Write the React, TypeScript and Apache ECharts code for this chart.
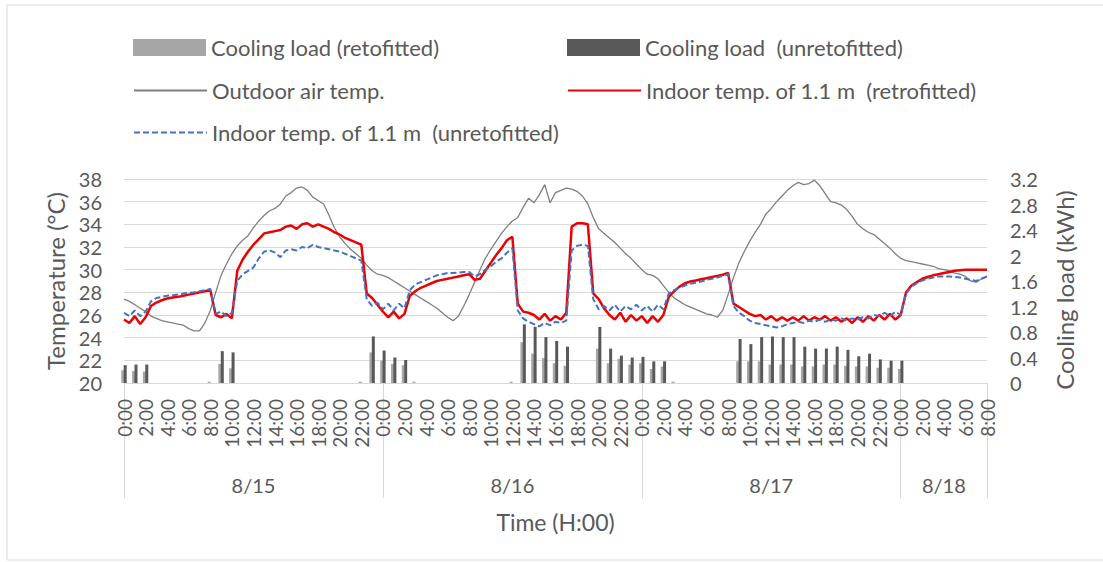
import React, { useEffect, useRef } from "react";
import * as echarts from "echarts";

// Half-hourly readings, 8/15 0:00 (h = 0) to 8/18 8:00 (h = 80)
const OUTDOOR = [
  27.4, 27.2, 26.9, 26.6, 26.3, 25.9, 25.7, 25.5, 25.4, 25.3, 25.2, 25.1, 24.8, 24.6, 24.6, 25.3,
  26.4, 28.0, 29.5, 30.5, 31.4, 32.1, 32.6, 33.0, 33.7, 34.3, 34.8, 35.2, 35.4, 35.8, 36.5, 36.8,
  37.2, 37.3, 37.0, 36.4, 36.1, 35.8, 34.8, 33.7, 32.9, 32.3, 31.8, 31.4, 31.0, 30.4, 29.9, 29.6,
  29.5, 29.3, 29.0, 28.7, 28.4, 28.1, 27.8, 27.5, 27.2, 26.9, 26.6, 26.2, 25.8, 25.5, 25.9, 26.8,
  27.8, 28.9, 30.0, 31.0, 31.8, 32.5, 33.2, 33.8, 34.3, 34.6, 35.5, 36.3, 35.9, 36.6, 37.5, 35.9,
  36.8, 37.0, 37.2, 37.1, 36.9, 36.5, 35.8, 34.6, 33.6, 33.2, 32.8, 32.4, 31.9, 31.4, 31.0, 30.5,
  30.0, 29.6, 29.5, 29.2, 28.6, 28.0, 27.5, 27.2, 26.9, 26.7, 26.5, 26.3, 26.1, 26.0, 25.8, 26.4,
  27.8, 29.3, 30.6, 31.6, 32.5, 33.3, 34.0, 34.9, 35.4, 36.0, 36.5, 37.0, 37.4, 37.7, 37.5, 37.6,
  37.9, 37.4, 36.7, 36.0, 35.9, 35.7, 35.3, 34.7, 34.0, 33.6, 33.3, 33.1, 32.7, 32.3, 31.9, 31.4,
  31.0, 30.8, 30.7, 30.6, 30.5, 30.4, 30.3, 30.1, 30.0, 29.9, 29.7, 29.6, 29.4, 29.0, 28.9, 29.2,
  29.4,
];

const INDOOR_RETRO = [
  25.6, 25.3, 25.9, 25.2, 25.8, 26.8, 27.1, 27.3, 27.45, 27.55, 27.6, 27.7, 27.8, 27.9, 28.0, 28.1,
  28.2, 26.0, 25.8, 26.1, 25.7, 29.9, 30.9, 31.6, 32.2, 32.7, 33.2, 33.3, 33.4, 33.5, 33.8, 33.9,
  33.6, 34.0, 34.1, 33.8, 34.0, 33.8, 33.6, 33.3, 33.1, 32.8, 32.6, 32.4, 32.2, 27.9, 27.5, 26.9,
  26.3, 25.8, 26.3, 25.7, 26.1, 27.7, 28.1, 28.4, 28.6, 28.8, 29.0, 29.1, 29.2, 29.3, 29.4, 29.5,
  29.6, 29.1, 29.2, 29.9, 30.6, 31.3, 31.9, 32.6, 32.9, 27.0, 26.3, 26.2, 26.0, 25.6, 26.1, 25.5,
  25.9, 25.6, 26.2, 33.8, 34.1, 34.1, 34.0, 27.9, 27.4, 26.6, 26.0, 25.6, 26.2, 25.4, 26.0, 25.5,
  25.9, 25.3, 25.9, 25.4, 26.0, 27.6, 28.1, 28.5, 28.8, 28.95, 29.05, 29.15, 29.25, 29.35, 29.45, 29.55,
  29.7, 27.0, 26.7, 26.4, 26.1, 25.9, 26.0, 25.6, 25.9, 25.5, 25.8, 25.5, 25.8, 25.5, 25.9, 25.5,
  25.8, 25.6, 25.9, 25.5, 25.8, 25.4, 25.7, 25.3, 25.8, 25.4, 25.9, 25.5, 26.0, 25.6, 26.1, 25.6,
  26.0, 28.0, 28.6, 28.9, 29.2, 29.35, 29.5, 29.6, 29.7, 29.8, 29.9, 29.95, 30.0, 30.0, 30.0, 30.0,
  30.0,
];

const INDOOR_UNRETRO = [
  26.2, 25.9, 26.4, 25.9, 26.3, 27.2, 27.5, 27.6, 27.7, 27.75, 27.8, 27.9, 27.95, 28.0, 28.1, 28.2,
  28.3, 26.1, 26.3, 25.9, 26.2, 29.0, 29.6, 29.9, 30.2, 31.0, 31.6, 31.7, 31.5, 31.1, 31.7, 31.8,
  31.7, 32.0, 31.9, 32.2, 32.0, 31.9, 31.8, 31.7, 31.6, 31.4, 31.2, 31.0, 30.8, 27.4, 26.8, 27.1,
  26.5, 27.0, 26.4, 27.0, 26.6, 28.2, 28.7, 28.9, 29.1, 29.3, 29.5, 29.6, 29.7, 29.7, 29.75, 29.8,
  29.8, 29.4, 29.6, 30.0, 30.3, 30.7, 31.0, 31.5, 31.9, 26.4, 25.7, 25.4, 25.2, 25.0, 25.3, 25.1,
  25.4, 25.3, 25.5, 31.7, 32.1, 32.2, 32.1, 27.4, 26.5, 26.8, 26.4, 26.9, 26.3, 26.8, 26.5, 26.9,
  26.4, 26.8, 26.3, 26.9, 26.5, 27.9, 28.2, 28.4, 28.6, 28.75, 28.85, 28.95, 29.1, 29.2, 29.3, 29.45,
  29.6, 26.8, 26.2, 25.9, 25.5, 25.3, 25.2, 25.1, 25.0, 24.9, 25.0, 25.2, 25.3, 25.4, 25.3, 25.5,
  25.4, 25.6, 25.4, 25.6, 25.5, 25.7, 25.5, 25.7, 25.6, 25.8, 25.7, 26.0, 25.9, 26.2, 25.9, 26.3,
  26.0, 27.9, 28.5, 28.8, 29.05, 29.2, 29.3, 29.4, 29.4, 29.4, 29.35, 29.3, 29.2, 29.1, 29.0, 29.2,
  29.4,
];

// Hourly cooling load (kWh)
const BAR_HOURS = [
  0, 1, 2, 8, 9, 10, 22, 23, 24, 25, 26, 27, 36, 37, 38, 39, 40, 41, 44, 45, 46, 47, 48, 49, 50, 51,
  57, 58, 59, 60, 61, 62, 63, 64, 65, 66, 67, 68, 69, 70, 71, 72,
];
const LOAD_RETRO = [
  0.2, 0.19, 0.18, 0.02, 0.3, 0.23, 0.02, 0.48, 0.35, 0.3, 0.28, 0.02, 0.02, 0.64, 0.46, 0.39, 0.31, 0.27,
  0.54, 0.31, 0.38, 0.29, 0.31, 0.22, 0.26, 0.02,
  0.34, 0.34, 0.34, 0.29, 0.29, 0.29, 0.26, 0.26, 0.29, 0.29, 0.27, 0.26, 0.26, 0.24, 0.24, 0.22,
];
const LOAD_UNRETRO = [
  0.28, 0.29, 0.29, 0, 0.5, 0.48, 0, 0.73, 0.51, 0.4, 0.36, 0, 0, 0.92, 0.88, 0.72, 0.66, 0.57,
  0.88, 0.54, 0.43, 0.4, 0.41, 0.34, 0.34, 0,
  0.69, 0.61, 0.72, 0.73, 0.72, 0.72, 0.57, 0.54, 0.54, 0.57, 0.52, 0.42, 0.46, 0.37, 0.35, 0.35,
];

const DATE_LABELS = ["8/15", "8/16", "8/17", "8/18"];
const DATE_CENTERS = [12, 36, 60, 76];
const DATE_BOUNDS = [0, 24, 48, 72, 80];

const NAMES = {
  loadR: "Cooling load (retofitted)",
  loadU: "Cooling load  (unretofitted)",
  out: "Outdoor air temp.",
  inR: "Indoor temp. of 1.1 m  (retrofitted)",
  inU: "Indoor temp. of 1.1 m  (unretofitted)",
};

const FONT = "Lato";
const TXT = "#595959";
const GRID_C = "#d9d9d9";

const hours = OUTDOOR.map((_, i) => i / 2);
const pairs = (arr: number[]) => arr.map((v, i) => [hours[i], v]);

function legendItem(name: string, left: number, top: number, isLine: boolean) {
  const item: any = {
    data: [name],
    left,
    top,
    padding: 0,
    itemWidth: 73,
    itemHeight: 17,
    itemGap: 0,
    selectedMode: false,
    textStyle: { fontFamily: FONT, fontSize: 22, color: TXT },
  };
  if (isLine) item.itemStyle = { opacity: 0 };
  else item.icon = "rect";
  return item;
}

export default function App() {
  const ref = useRef<HTMLDivElement>(null);
  useEffect(() => {
    const chart = echarts.init(ref.current!, null, { renderer: "svg" });
    const option: any = {
      animation: false,
      backgroundColor: "#fff",
      textStyle: { fontFamily: FONT },
      graphic: [
        {
          type: "rect",
          shape: { x: 7, y: 5, width: 1120, height: 555 },
          style: { fill: "none", stroke: GRID_C, lineWidth: 1 },
          silent: true,
        },
      ],
      legend: [
        legendItem(NAMES.loadR, 133, 36.5, false),
        legendItem(NAMES.loadU, 567, 36.5, false),
        legendItem(NAMES.out, 133, 79.5, true),
        legendItem(NAMES.inR, 567, 79.5, true),
        legendItem(NAMES.inU, 133, 121.5, true),
      ],
      grid: { left: 124, right: 116, top: 179, bottom: 179, containLabel: false, outerBoundsMode: "none" },
      xAxis: [
        {
          type: "value",
          position: "bottom",
          min: 0,
          max: 80,
          interval: 2,
          axisLine: { show: true, lineStyle: { color: GRID_C, width: 1 } },
          axisTick: { show: false },
          splitLine: { show: false },
          axisLabel: {
            rotate: 90,
            margin: 16,
            showMinLabel: true,
            showMaxLabel: true,
            fontFamily: FONT,
            fontSize: 19,
            color: TXT,
            formatter: (v: number) => `${v % 24}:00`,
          },
        },
        {
          type: "value",
          position: "bottom",
          min: 0,
          max: 80,
          axisLine: { show: false },
          axisTick: {
            show: true,
            customValues: DATE_BOUNDS,
            length: 115,
            lineStyle: { color: GRID_C, width: 1 },
          },
          splitLine: { show: false },
          axisLabel: {
            customValues: DATE_CENTERS,
            margin: 92,
            fontFamily: FONT,
            fontSize: 20,
            color: TXT,
            formatter: (v: number) => DATE_LABELS[DATE_CENTERS.indexOf(v)] ?? "",
          },
          name: "Time (H:00)",
          nameLocation: "middle",
          nameGap: 127,
          nameTextStyle: { fontFamily: FONT, fontSize: 23, color: TXT },
        },
      ],
      yAxis: [
        {
          type: "value",
          min: 20,
          max: 38,
          interval: 2,
          axisLine: { show: false },
          axisTick: { show: false },
          splitLine: { show: true, lineStyle: { color: GRID_C, width: 1 } },
          axisLabel: { margin: 22, fontFamily: FONT, fontSize: 20, color: TXT },
          name: "Temperature (°C)",
          nameLocation: "middle",
          nameRotate: 90,
          nameGap: 57,
          nameTextStyle: { fontFamily: FONT, fontSize: 24, color: TXT },
        },
        {
          type: "value",
          min: 0,
          max: 3.2,
          interval: 0.4,
          position: "right",
          axisLine: { show: false },
          axisTick: { show: false },
          splitLine: { show: false },
          axisLabel: { margin: 23, fontFamily: FONT, fontSize: 20, color: TXT },
          name: "Cooling load (kWh)",
          nameLocation: "middle",
          nameRotate: 90,
          nameGap: 65,
          nameTextStyle: { fontFamily: FONT, fontSize: 24, color: TXT, padding: [0, 18, 0, 0] },
        },
      ],
      series: [
        {
          name: NAMES.loadR,
          type: "bar",
          xAxisIndex: 0,
          yAxisIndex: 1,
          barWidth: 3,
          barGap: "-20%",
          itemStyle: { color: "#a6a6a6" },
          data: BAR_HOURS.map((h, i) => [h, LOAD_RETRO[i]]),
        },
        {
          name: NAMES.loadU,
          type: "bar",
          xAxisIndex: 0,
          yAxisIndex: 1,
          barWidth: 3,
          barGap: "-20%",
          itemStyle: { color: "#595959" },
          data: BAR_HOURS.map((h, i) => [h, LOAD_UNRETRO[i]]),
        },
        {
          name: NAMES.out,
          type: "line",
          xAxisIndex: 0,
          yAxisIndex: 0,
          symbol: "none",
          showSymbol: false,
          itemStyle: { color: "#7f7f7f" },
          lineStyle: { color: "#7f7f7f", width: 1.3 },
          data: pairs(OUTDOOR),
        },
        {
          name: NAMES.inR,
          type: "line",
          xAxisIndex: 0,
          yAxisIndex: 0,
          symbol: "none",
          showSymbol: false,
          itemStyle: { color: "#ee0000" },
          lineStyle: { color: "#ee0000", width: 2.5 },
          data: pairs(INDOOR_RETRO),
        },
        {
          name: NAMES.inU,
          type: "line",
          xAxisIndex: 0,
          yAxisIndex: 0,
          symbol: "none",
          showSymbol: false,
          itemStyle: { color: "#4472c4" },
          lineStyle: { color: "#4472c4", width: 2, type: [6, 3] },
          data: pairs(INDOOR_UNRETRO),
        },
      ],
    };
    chart.setOption(option);
    return () => chart.dispose();
  }, []);
  return (
    <div
      ref={ref}
      style={{ position: "absolute", left: 0, top: 0, width: 1103, height: 562, background: "#fff" }}
    />
  );
}
